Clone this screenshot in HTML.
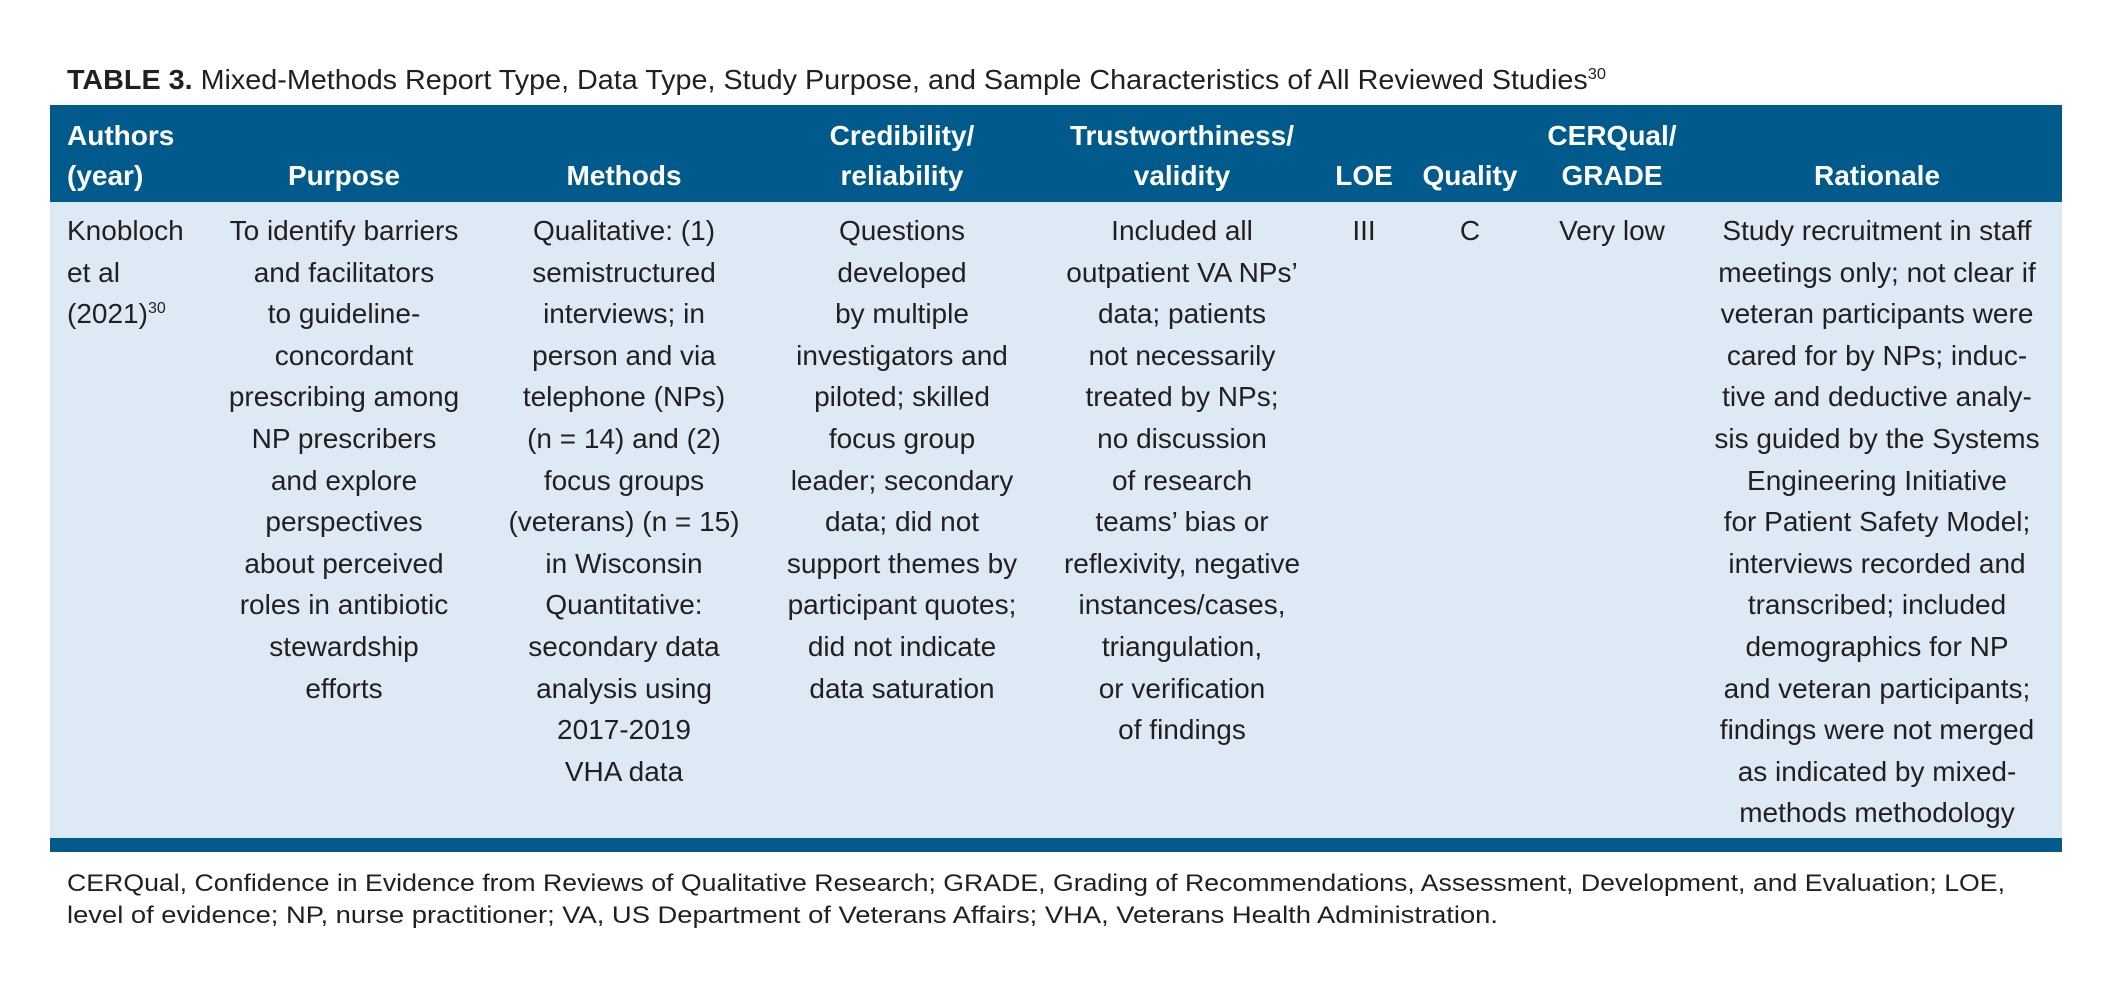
<!DOCTYPE html>
<html><head><meta charset="utf-8"><style>
html,body{margin:0;padding:0;background:#fff;}
svg{display:block;}
text{font-family:"Liberation Sans Narrow","Liberation Sans",sans-serif;fill:#231f20;}
.h{fill:#fff;font-weight:bold;font-size:28px;}
.b{font-size:28px;}
.c{text-anchor:middle;}
</style></head><body>
<svg width="2113" height="992" viewBox="0 0 2113 992" xmlns="http://www.w3.org/2000/svg">
<rect width="2113" height="992" fill="#fff"/>
<text x="67" y="89" font-size="28" textLength="1539" lengthAdjust="spacingAndGlyphs"><tspan font-weight="bold" font-family="Liberation Sans, sans-serif">TABLE 3.</tspan> Mixed-Methods Report Type, Data Type, Study Purpose, and Sample Characteristics of All Reviewed Studies<tspan font-size="16" dy="-10">30</tspan></text>
<rect x="50" y="105" width="2012" height="97" fill="#005a8c"/>
<rect x="50" y="202" width="2012" height="636" fill="#dde9f5"/>
<rect x="50" y="838" width="2012" height="14" fill="#005a8c"/>
<g>
<text class="h" x="67" y="145">Authors</text>
<text class="h" x="67" y="185">(year)</text>
<text class="h c" x="344" y="185">Purpose</text>
<text class="h c" x="624" y="185">Methods</text>
<text class="h c" x="902" y="145">Credibility/</text>
<text class="h c" x="902" y="185">reliability</text>
<text class="h c" x="1182" y="145">Trustworthiness/</text>
<text class="h c" x="1182" y="185">validity</text>
<text class="h c" x="1364" y="185">LOE</text>
<text class="h c" x="1470" y="185">Quality</text>
<text class="h c" x="1612" y="145">CERQual/</text>
<text class="h c" x="1612" y="185">GRADE</text>
<text class="h c" x="1877" y="185">Rationale</text>
</g>
<g class="b">
<text class="b" x="67" y="240">Knobloch</text>
<text class="b" x="67" y="282">et al</text>
<text class="b" x="67" y="323">(2021)<tspan font-size="16" dy="-10">30</tspan></text>
</g>
<g class="b c" font-size="28" text-anchor="middle">
<text x="344" y="240">To identify barriers</text>
<text x="344" y="282">and facilitators</text>
<text x="344" y="323">to guideline-</text>
<text x="344" y="365">concordant</text>
<text x="344" y="406">prescribing among</text>
<text x="344" y="448">NP prescribers</text>
<text x="344" y="490">and explore</text>
<text x="344" y="531">perspectives</text>
<text x="344" y="573">about perceived</text>
<text x="344" y="614">roles in antibiotic</text>
<text x="344" y="656">stewardship</text>
<text x="344" y="698">efforts</text>

<text x="624" y="240">Qualitative: (1)</text>
<text x="624" y="282">semistructured</text>
<text x="624" y="323">interviews; in</text>
<text x="624" y="365">person and via</text>
<text x="624" y="406">telephone (NPs)</text>
<text x="624" y="448">(n = 14) and (2)</text>
<text x="624" y="490">focus groups</text>
<text x="624" y="531">(veterans) (n = 15)</text>
<text x="624" y="573">in Wisconsin</text>
<text x="624" y="614">Quantitative:</text>
<text x="624" y="656">secondary data</text>
<text x="624" y="698">analysis using</text>
<text x="624" y="739">2017-2019</text>
<text x="624" y="781">VHA data</text>

<text x="902" y="240">Questions</text>
<text x="902" y="282">developed</text>
<text x="902" y="323">by multiple</text>
<text x="902" y="365">investigators and</text>
<text x="902" y="406">piloted; skilled</text>
<text x="902" y="448">focus group</text>
<text x="902" y="490">leader; secondary</text>
<text x="902" y="531">data; did not</text>
<text x="902" y="573">support themes by</text>
<text x="902" y="614">participant quotes;</text>
<text x="902" y="656">did not indicate</text>
<text x="902" y="698">data saturation</text>

<text x="1182" y="240">Included all</text>
<text x="1182" y="282">outpatient VA NPs’</text>
<text x="1182" y="323">data; patients</text>
<text x="1182" y="365">not necessarily</text>
<text x="1182" y="406">treated by NPs;</text>
<text x="1182" y="448">no discussion</text>
<text x="1182" y="490">of research</text>
<text x="1182" y="531">teams’ bias or</text>
<text x="1182" y="573">reflexivity, negative</text>
<text x="1182" y="614">instances/cases,</text>
<text x="1182" y="656">triangulation,</text>
<text x="1182" y="698">or verification</text>
<text x="1182" y="739">of findings</text>

<text x="1364" y="240">III</text>
<text x="1470" y="240">C</text>
<text x="1612" y="240">Very low</text>

<text x="1877" y="240">Study recruitment in staff</text>
<text x="1877" y="282">meetings only; not clear if</text>
<text x="1877" y="323">veteran participants were</text>
<text x="1877" y="365">cared for by NPs; induc-</text>
<text x="1877" y="406">tive and deductive analy-</text>
<text x="1877" y="448">sis guided by the Systems</text>
<text x="1877" y="490">Engineering Initiative</text>
<text x="1877" y="531">for Patient Safety Model;</text>
<text x="1877" y="573">interviews recorded and</text>
<text x="1877" y="614">transcribed; included</text>
<text x="1877" y="656">demographics for NP</text>
<text x="1877" y="698">and veteran participants;</text>
<text x="1877" y="739">findings were not merged</text>
<text x="1877" y="781">as indicated by mixed-</text>
<text x="1877" y="822">methods methodology</text>
</g>
<text x="67" y="891" font-size="24" textLength="1938" lengthAdjust="spacingAndGlyphs">CERQual, Confidence in Evidence from Reviews of Qualitative Research; GRADE, Grading of Recommendations, Assessment, Development, and Evaluation; LOE,</text>
<text x="67" y="923" font-size="24" textLength="1431" lengthAdjust="spacingAndGlyphs">level of evidence; NP, nurse practitioner; VA, US Department of Veterans Affairs; VHA, Veterans Health Administration.</text>
</svg>
</body></html>
